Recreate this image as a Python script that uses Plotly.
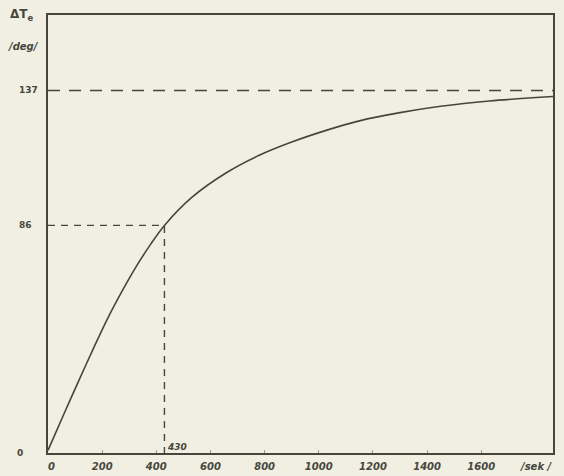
import plotly.graph_objects as go

# Curve: time [s] vs temperature rise [deg]
t_sec = [0, 60, 110, 170, 220, 270, 320, 380, 430, 530, 660, 780, 900, 1030, 1150, 1300, 1450, 1630, 1865]
dT = [1, 15, 26.5, 40, 50.8, 60.5, 69.5, 79, 86, 96.5, 106, 112.5, 117.5, 122, 125.5, 128.6, 131, 133, 134.7]

x_ticks = [0, 200, 400, 600, 800, 1000, 1200, 1400, 1600]
x_tick_labels = ["  0", "200", "400", "600", "800", "1000", "1200", "1400", "1600"]
y_ticks = [0, 86, 137]
y_tick_labels = ["0", "86", "137"]
y_label_px = [20, 25, 28]   # label centres (px from left), as in the scan

t_half = 430
dT_half = 86
dT_max = 137

X_MAX = 1865
Y_MAX = 165.5

ink = "#46463e"
paper = "#f1efe1"

L, R, T, B = 48, 11, 15, 23
W, H = 564, 476
PW, PH = W - L - R, H - T - B


def px(xp):
    return (xp - L) / PW


def py(yp):
    return (H - B - yp) / PH


fig = go.Figure()

fig.add_trace(go.Scatter(x=[0, X_MAX], y=[dT_max, dT_max], mode="lines",
                         line=dict(color=ink, width=1.6, dash="12px,9px"),
                         hoverinfo="skip", showlegend=False))
fig.add_trace(go.Scatter(x=[0, t_half, t_half], y=[dT_half, dT_half, 0], mode="lines",
                         line=dict(color=ink, width=1.4, dash="7px,6px"),
                         hoverinfo="skip", showlegend=False))
fig.add_trace(go.Scatter(x=t_sec, y=dT, mode="lines",
                         line=dict(color=ink, width=1.6, shape="spline", smoothing=1.0),
                         hoverinfo="skip", showlegend=False))

fig.update_layout(
    width=W, height=H,
    margin=dict(l=L, r=R, t=T, b=B, autoexpand=False),
    paper_bgcolor=paper, plot_bgcolor=paper,
    font=dict(family="DejaVu Sans", size=10, color=ink),
    xaxis=dict(range=[0, X_MAX], tickvals=x_ticks, automargin=False,
               ticktext=["<b><i>%s</i></b>" % s for s in x_tick_labels],
               showgrid=False, zeroline=False, showline=True, linecolor=ink, linewidth=2,
               mirror=True, ticks="inside", ticklen=3, tickcolor="#9a9a90", tickwidth=1,
               ticklabelstandoff=3,
               tickfont=dict(family="DejaVu Sans", size=10, color=ink), fixedrange=True),
    yaxis=dict(range=[0, Y_MAX], tickvals=y_ticks, showticklabels=False, automargin=False,
               showgrid=False, zeroline=False, showline=True, linecolor=ink, linewidth=2,
               mirror=True, ticks="", fixedrange=True),
)

for v, lab, xp in zip(y_ticks, y_tick_labels, y_label_px):
    fig.add_annotation(x=px(xp), y=v, xref="paper", yref="y", text="<b>%s</b>" % lab,
                       showarrow=False, xanchor="center", yanchor="middle",
                       font=dict(family="DejaVu Sans", size=9, color=ink))

fig.add_annotation(x=t_half, y=0, xref="x", yref="y", text="<b><i>430</i></b>",
                   showarrow=False, xanchor="left", yanchor="bottom", xshift=1, yshift=-1,
                   font=dict(family="DejaVu Sans", size=9, color=ink))
fig.add_annotation(x=px(536), y=py(466), xref="paper", yref="paper",
                   text="<b><i>/sek /</i></b>", showarrow=False, xanchor="center", yanchor="middle",
                   font=dict(family="DejaVu Sans", size=10, color=ink))
fig.add_annotation(x=px(21), y=py(15), xref="paper", yref="paper",
                   text="<b>ΔT<sub>e</sub></b>", showarrow=False, xanchor="center", yanchor="middle",
                   font=dict(family="DejaVu Sans", size=12, color=ink))
fig.add_annotation(x=px(23), y=py(46), xref="paper", yref="paper",
                   text="<b><i>/deg/</i></b>", showarrow=False, xanchor="center", yanchor="middle",
                   font=dict(family="DejaVu Sans", size=10, color=ink))

fig.write_html("out.html")
